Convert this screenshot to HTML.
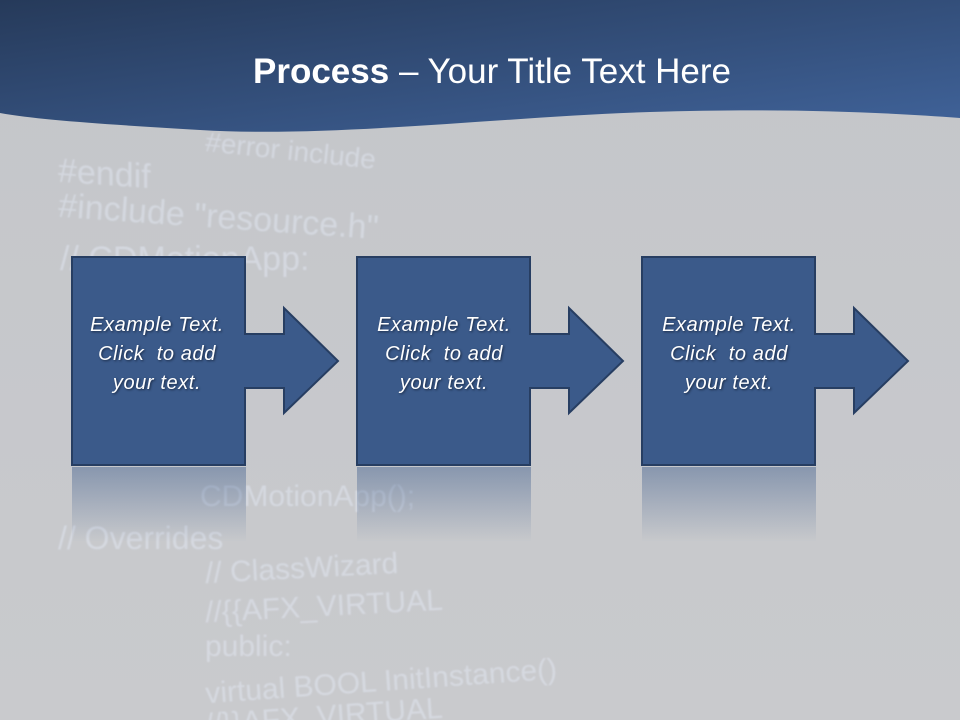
<!DOCTYPE html>
<html><head><meta charset="utf-8"><style>
body{margin:0}
#s{position:relative;width:960px;height:720px;overflow:hidden;background:linear-gradient(180deg,#c4c6ca,#c9cacd);font-family:"Liberation Sans",sans-serif}
.code{position:absolute;color:#e6ecf8;opacity:.45;font-family:"Liberation Sans",sans-serif;white-space:nowrap;filter:blur(.8px)}
.t{position:absolute;width:174px;text-align:center;color:#fff;font-style:italic;font-size:20px;letter-spacing:.6px;line-height:29px;text-shadow:1px 1px 2px #1a2a45;font-family:"Liberation Sans",sans-serif}
</style></head><body><div id="s">
<div class="code" style="left:58px;top:155px;font-size:34px;transform:skewY(4deg)">#endif</div>
<div class="code" style="left:205px;top:135px;font-size:28px;transform:rotate(6deg)">#error include</div>
<div class="code" style="left:58px;top:198px;font-size:34px;transform:rotate(4deg)">#include "resource.h"</div>
<div class="code" style="left:60px;top:240px;font-size:34px">// CDMotionApp:</div>
<div class="code" style="left:200px;top:480px;font-size:30px">CDMotionApp();</div>
<div class="code" style="left:58px;top:520px;font-size:32px">// Overrides</div>
<div class="code" style="left:205px;top:552px;font-size:30px;transform:rotate(-3deg)">// ClassWizard</div>
<div class="code" style="left:205px;top:590px;font-size:30px;transform:rotate(-3deg)">//{{AFX_VIRTUAL</div>
<div class="code" style="left:205px;top:630px;font-size:30px">public:</div>
<div class="code" style="left:205px;top:665px;font-size:30px;transform:rotate(-4deg)">virtual BOOL InitInstance()</div>
<div class="code" style="left:205px;top:700px;font-size:30px;transform:rotate(-4deg)">//}}AFX_VIRTUAL</div>
<svg width="960" height="720" style="position:absolute;left:0;top:0">
<defs>
<linearGradient id="h" x1="0" y1="0" x2="1" y2="1"><stop offset="0" stop-color="#263a5a"/><stop offset="1" stop-color="#40639a"/></linearGradient>
<linearGradient id="r" x1="0" y1="0" x2="0" y2="1"><stop offset="0" stop-color="#3b5a8a" stop-opacity=".45"/><stop offset="1" stop-color="#3b5a8a" stop-opacity="0"/></linearGradient>
</defs>
<path d="M0 0H960V118C880 112 780 108 650 112C500 117 330 138 200 130C100 124 40 120 0 113Z" fill="url(#h)"/>
<g id="a">
<rect x="72" y="467" width="174" height="75" fill="url(#r)"/>
<path d="M72 257H245V334H284V308L338 361L284 413V388H245V465H72Z" fill="#3b5a8a" stroke="#273e62" stroke-width="2"/>
</g>
<use href="#a" x="285"/>
<use href="#a" x="570"/>
</svg>
<div style="position:absolute;left:0;top:52px;width:984px;text-align:center;color:#fff;font-size:35px;font-family:'Liberation Sans',sans-serif"><b>Process</b> – Your Title Text Here</div>
<div class="t" style="left:70px;top:311px">Example Text.<br>Click&nbsp; to add<br>your text.</div>
<div class="t" style="left:357px;top:311px">Example Text.<br>Click&nbsp; to add<br>your text.</div>
<div class="t" style="left:642px;top:311px">Example Text.<br>Click&nbsp; to add<br>your text.</div>
</div></body></html>
